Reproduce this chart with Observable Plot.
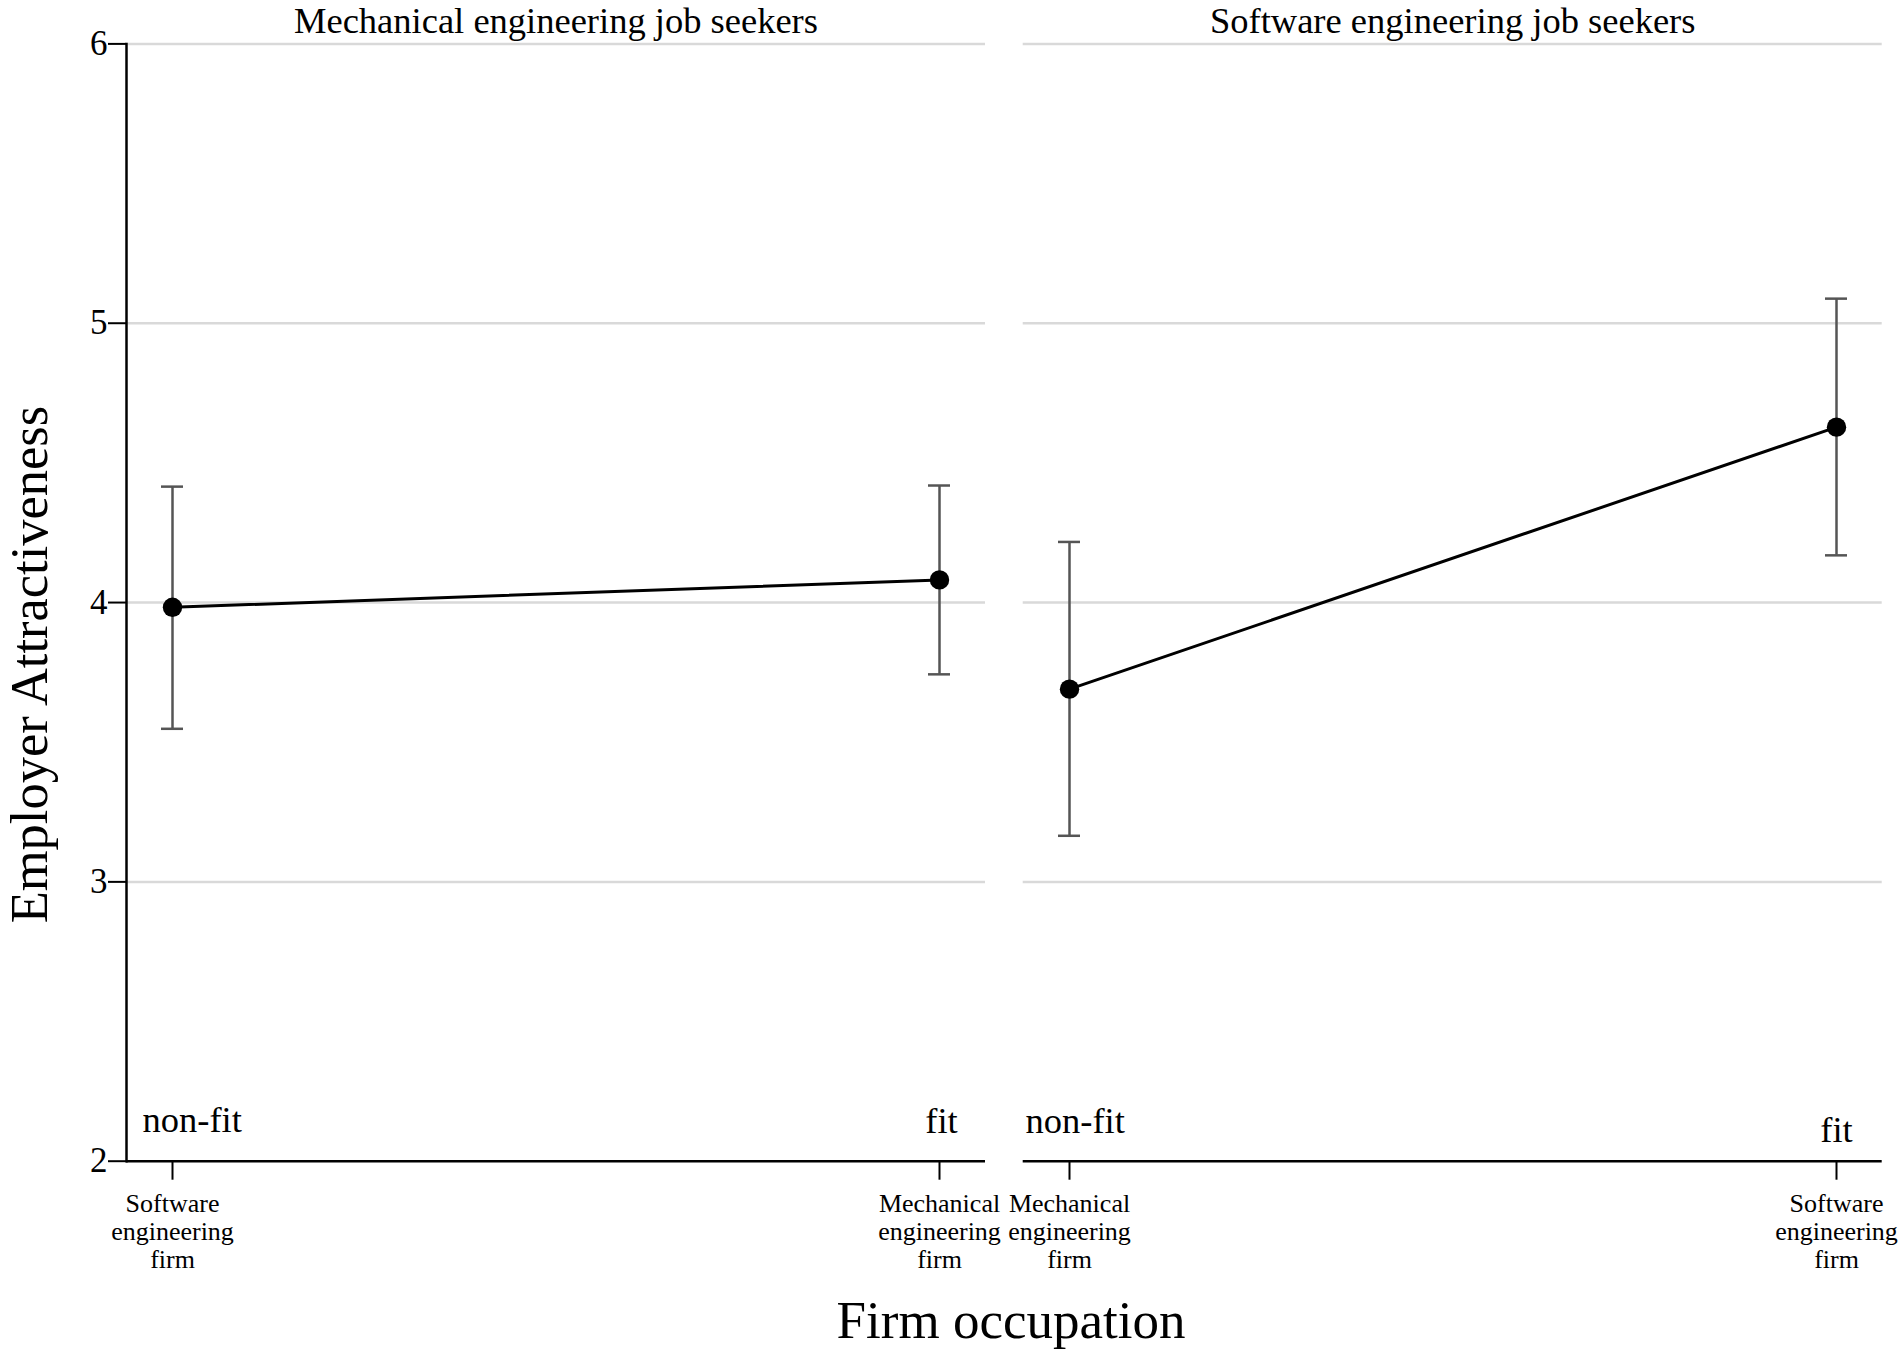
<!DOCTYPE html>
<html>
<head>
<meta charset="utf-8">
<script src="https://cdn.jsdelivr.net/npm/d3@7"></script>
<script src="https://cdn.jsdelivr.net/npm/@observablehq/plot@0.6"></script>
<style>
  html, body { margin: 0; padding: 0; background: white; }
  #wrap { position: relative; width: 1902px; height: 1356px; overflow: hidden; font-family: "Liberation Serif", "Times New Roman", serif; }
  #wrap svg { position: absolute; top: 0; }
  #xlabel { position: absolute; left: 1011px; top: 1294px; transform: translateX(-50%); font-size: 53px; line-height: 53px; white-space: nowrap; color: black; }
</style>
</head>
<body>
<div id="wrap"><div id="xlabel">Firm occupation</div></div>
<script>
// ---- data ----
const panelTitles = ["Mechanical engineering job seekers", "Software engineering job seekers"];
const categoriesLeft = ["Software engineering firm", "Mechanical engineering firm"];
const categoriesRight = ["Mechanical engineering firm", "Software engineering firm"];
const fitLabels = ["non-fit", "fit"];
const meanLeft = [3.983, 4.081];
const lowLeft = [3.548, 3.743];
const highLeft = [4.415, 4.419];
const meanRight = [3.690, 4.628];
const lowRight = [3.165, 4.169];
const highRight = [4.217, 5.088];
const yTicks = [2, 3, 4, 5, 6];
const gridTicks = [3, 4, 5, 6];
const yLabel = "Employer Attractiveness";

const H = 1356, MT = 43.4, MB = H - 1160.7;
const font = "Liberation Serif";

function rows(cats, mean, low, high) {
  return cats.map((c, i) => ({cat: c, mean: mean[i], low: low[i], high: high[i], label: fitLabels[i]}));
}

function panel({title, cats, data, width, marginLeft, marginRight, left, labelMarks}) {
  const marks = [
    Plot.ruleY(gridTicks, {stroke: "#d9d9d9", strokeWidth: 2.5}),
    Plot.ruleY([yTicks[0]], {stroke: "black", strokeWidth: 2.5}),
    Plot.axisX({tickSize: 19, tickPadding: 12, fontSize: 26, lineHeight: 1.07, strokeWidth: 2,
      tickFormat: d => d.split(" ").join("\n"), label: null}),
    Plot.ruleX(data, {x: "cat", y1: "low", y2: "high", stroke: "#555", strokeWidth: 2.5}),
    Plot.tickY(data, {x: "cat", y: "low", stroke: "#555", strokeWidth: 2.5}),
    Plot.tickY(data, {x: "cat", y: "high", stroke: "#555", strokeWidth: 2.5}),
    Plot.line(data, {x: "cat", y: "mean", stroke: "black", strokeWidth: 3}),
    Plot.dot(data, {x: "cat", y: "mean", r: 9.7, fill: "black", stroke: "none"}),
    Plot.text([title], {frameAnchor: "top", dy: -10.9, lineAnchor: "bottom", fontSize: 36.5, fill: "black"}),
    ...labelMarks
  ];
  if (left) {
    marks.push(
      Plot.frame({anchor: "left", stroke: "black", strokeWidth: 2.5}),
      Plot.axisY({ticks: yTicks, tickSize: 18, tickPadding: 1, fontSize: 35, strokeWidth: 2, label: null, tickFormat: d => String(d)}),
      Plot.text([yLabel], {frameAnchor: "left", textAnchor: "middle", lineAnchor: "middle", rotate: -90, dx: -96, dy: 62, fontSize: 52.5, fill: "black"})
    );
  }
  return Plot.plot({
    width, height: H,
    marginTop: MT, marginBottom: MB, marginLeft, marginRight,
    style: {fontFamily: font, color: "black", background: "transparent", overflow: "visible", maxWidth: "none"},
    x: {type: "band", domain: cats, paddingInner: 0.97134, paddingOuter: 0.0452, align: 0.5},
    y: {domain: [yTicks[0], yTicks[yTicks.length - 1]], axis: left ? undefined : null},
    marks
  });
}

const dataLeft = rows(categoriesLeft, meanLeft, lowLeft, highLeft);
const dataRight = rows(categoriesRight, meanRight, lowRight, highRight);

const leftPlot = panel({
  title: panelTitles[0], cats: categoriesLeft, data: dataLeft,
  width: 985, marginLeft: 126, marginRight: 0, left: true,
  labelMarks: [
    Plot.text([dataLeft[0]], {x: "cat", y: () => yTicks[0], text: "label", textAnchor: "start", lineAnchor: "bottom", dx: -30, dy: -29.7, fontSize: 36.5, fill: "black"}),
    Plot.text([dataLeft[1]], {x: "cat", y: () => yTicks[0], text: "label", textAnchor: "middle", lineAnchor: "bottom", dx: 2, dy: -28.7, fontSize: 36.5, fill: "black"})
  ]
});
const rightPlot = panel({
  title: panelTitles[1], cats: categoriesRight, data: dataRight,
  width: 917, marginLeft: 37.7, marginRight: 20.3, left: false,
  labelMarks: [
    Plot.text([dataRight[0]], {x: "cat", y: () => yTicks[0], text: "label", textAnchor: "start", lineAnchor: "bottom", dx: -44, dy: -28.7, fontSize: 36.5, fill: "black"}),
    Plot.text([dataRight[1]], {x: "cat", y: () => yTicks[0], text: "label", textAnchor: "middle", lineAnchor: "bottom", dx: 0, dy: -19.7, fontSize: 36.5, fill: "black"})
  ]
});
leftPlot.style.left = "0px";
rightPlot.style.left = "985px";
const wrap = document.getElementById("wrap");
wrap.appendChild(leftPlot);
wrap.appendChild(rightPlot);
</script>
</body>
</html>
